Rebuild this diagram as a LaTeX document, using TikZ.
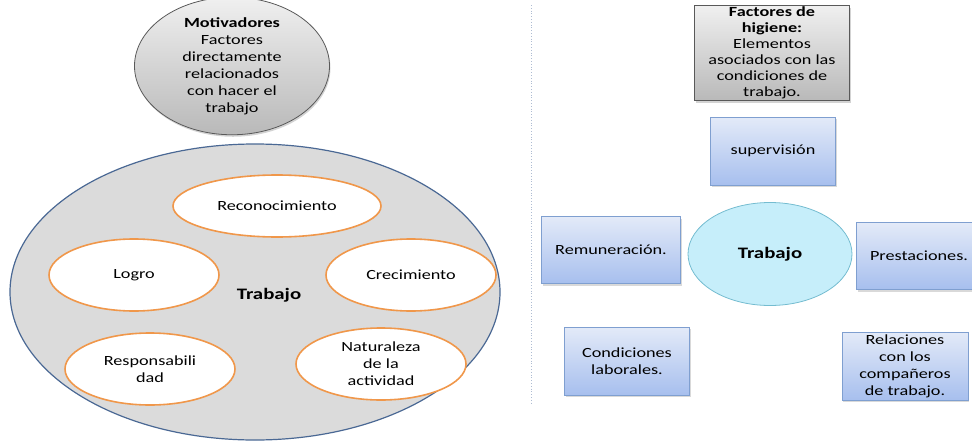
\documentclass[tikz,border=0pt]{standalone}
\usepackage{fontspec}
\setmainfont{Carlito}[FakeStretch=1.3]
\usetikzlibrary{shapes.geometric,shadows}

\definecolor{boxtop}{HTML}{E3EAF8}
\definecolor{boxbot}{HTML}{A7BFEE}
\definecolor{boxline}{HTML}{7F9FD0}
\definecolor{outerline}{HTML}{4A6894}
\definecolor{innerline}{HTML}{F0974A}
\definecolor{cyanfill}{HTML}{C6EEFA}
\definecolor{cyanline}{HTML}{74BCD0}
\definecolor{sepline}{HTML}{AEBCD2}

\begin{document}
\begin{tikzpicture}[
x=1pt, y=-1pt,
every node/.style={
  font=\fontsize{14}{17}\selectfont,
  align=center,
  inner sep=0pt
  },
outer/.style={
  ellipse,
  draw=outerline,
  line width=1.2pt,
  fill=gray!28,
  minimum width=490,
  minimum height=296
  },
inner/.style={
  ellipse,
  draw=innerline,
  line width=1.6pt,
  fill=white
  },
greyhead/.style={
  draw=gray!70!black,
  line width=0.8pt,
  top color=gray!12,
  bottom color=gray!55,
  drop shadow={shadow xshift=1pt,shadow yshift=-2pt,opacity=0.35}
  },
bluebox/.style={
  rectangle,
  draw=boxline,
  line width=0.8pt,
  top color=boxtop,
  bottom color=boxbot,
  drop shadow={shadow xshift=1pt,shadow yshift=-2pt,opacity=0.3}
  },
bigword/.style={
  font=\fontsize{16}{18}\selectfont\bfseries
  }
]
\useasboundingbox (0,0) rectangle (972,442);

% left half: motivadores
\node[greyhead, ellipse, minimum width=195, minimum height=108] (motiv) at (232,66)
  {\textbf{Motivadores}\\Factores\\directamente\\relacionados\\con hacer el\\trabajo};

\node[outer] (trabajoL) at (255,292) {};
\node[bigword] (trabajoLtxt) at (269,295) {Trabajo};

\node[inner, minimum width=208, minimum height=62] (recon) at (277,206) {Reconocimiento};
\node[inner, minimum width=170, minimum height=72] (logro) at (134,275) {Logro};
\node[inner, minimum width=170, minimum height=72] (crec) at (411,275) {Crecimiento};
\node[inner, minimum width=170, minimum height=72] (resp) at (150,369) {Responsabili\\dad};
\node[inner, minimum width=170, minimum height=72] (natur) at (381,364) {Naturaleza\\de la\\actividad};

% separator
\coordinate (septop) at (531,5);
\coordinate (sepbot) at (531,405);
\draw[sepline, dotted, line width=0.8pt] (septop) -- (sepbot);

% right half: factores de higiene
\node[greyhead, rectangle, minimum width=155, minimum height=95,
  font=\fontsize{14}{16}\selectfont] (higiene) at (772,53)
  {\textbf{Factores de}\\\textbf{higiene:}\\Elementos\\asociados con las\\condiciones de\\trabajo.};

\node[ellipse, draw=cyanline, line width=0.8pt, fill=cyanfill,
  minimum width=164, minimum height=103, bigword] (trabajoR) at (770,254) {Trabajo};

\node[bluebox, minimum width=125, minimum height=68] (superv) at (773,151) {supervisión};
\node[bluebox, minimum width=139, minimum height=67] (remun) at (611,250) {Remuneración.};
\node[bluebox, minimum width=125, minimum height=67] (prest) at (919,256) {Prestaciones.};
\node[bluebox, minimum width=125, minimum height=68] (condic) at (627,361) {Condiciones\\laborales.};
\node[bluebox, minimum width=126, minimum height=68] (relac) at (905,366)
  {Relaciones\\con los\\compañeros\\de trabajo.};
\end{tikzpicture}
\end{document}
